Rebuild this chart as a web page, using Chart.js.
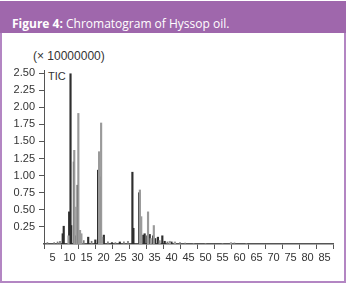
<!DOCTYPE html>
<html>
<head>
<meta charset="utf-8">
<script src="https://cdn.jsdelivr.net/npm/chart.js@4"></script>
<style>
  body { margin: 0; background: #fff; }
  #wrap { position: relative; width: 350px; height: 284px; overflow: hidden; }
  #frame { position: absolute; left: 0; top: 1px; width: 346px; height: 282px; box-sizing: border-box;
           border: 2px solid #b386c3; border-top: none; }
  #head { position: absolute; left: 0; top: 1px; width: 346px; height: 32px; background: #9f67ac;
          color: #fff; font: 12px "Open Sans", "Liberation Sans", sans-serif; line-height: 20px;
          padding: 13px 0 0 12px; box-sizing: border-box; white-space: nowrap; }
  #head b { font-weight: 700; }
  .lbl { position: absolute; font: 11px "Liberation Sans", Arial, sans-serif; color: #333; white-space: nowrap; }
  canvas { position: absolute; left: 0; top: 0; }
</style>
</head>
<body>
<div id="wrap">
  <div id="frame"></div>
  <div id="head"><b>Figure 4:</b> Chromatogram of Hyssop oil.</div>
  <div class="lbl" style="left:33px;top:49px;font-size:12px;">(× 10000000)</div>
  <div class="lbl" style="left:48px;top:70px;">TIC</div>
  <canvas id="chart" width="350" height="284"></canvas>
</div>
<script>
// retention time (min) and intensity (x 10^7)
const darkTimes = [8.0, 8.3, 9.9, 10.3, 10.5, 11.3, 11.7, 12.2, 12.4, 13.0, 15.5, 17.6, 18.4, 19.1, 20.1,
                   22.5, 24.8, 28.5, 28.8, 30.5, 31.7, 32.1, 32.9, 33.6, 34.6, 35.2, 36.0, 37.3, 38.0, 40.0];
const darkValues = [0.15, 0.26, 0.47, 2.49, 0.27, 1.20, 0.12, 0.40, 0.86, 0.18, 0.10, 0.06, 1.08, 0.98, 0.13,
                    0.02, 0.03, 1.05, 0.23, 0.75, 0.13, 0.15, 0.12, 0.14, 0.12, 0.08, 0.10, 0.12, 0.04, 0.03];
const grayTimes = [9.7, 11.4, 12.0, 12.6, 13.1, 13.5, 18.7, 19.3, 19.6, 30.7, 31.1, 33.1, 33.9, 34.8,
                   36.5, 39.5, 41.0, 57.5];
const grayValues = [0.12, 1.37, 0.54, 1.91, 0.20, 0.15, 1.35, 1.77, 0.10, 0.79, 0.40, 0.47, 0.08, 0.27,
                    0.05, 0.04, 0.03, 0.02];
const noiseTimes = [3.5, 5.5, 6.5, 7.2, 14.2, 16.5, 21.3, 23.5, 26.0, 27.2, 38.8, 42.5, 44.0, 46.5, 50.0, 55.0, 58.5, 62.0];
const noiseValues = [0.02, 0.02, 0.03, 0.04, 0.05, 0.04, 0.03, 0.02, 0.03, 0.04, 0.03, 0.02, 0.015, 0.01, 0.01, 0.01, 0.015, 0.01];
const xTicks = [5, 10, 15, 20, 25, 30, 35, 40, 45, 50, 55, 60, 65, 70, 75, 80, 85];
const yTicks = [0.25, 0.50, 0.75, 1.00, 1.25, 1.50, 1.75, 2.00, 2.25, 2.50];

const toPts = (xs, ys) => xs.map((x, i) => ({ x: x, y: ys[i] }));
const tickFont = { family: '"Liberation Sans", Arial, sans-serif', size: 11 };

new Chart(document.getElementById('chart'), {
  type: 'bar',
  data: {
    datasets: [
      { data: toPts(noiseTimes, noiseValues), backgroundColor: '#777', barThickness: 1 },
      { data: toPts(grayTimes, grayValues), backgroundColor: '#9a9a9a', barThickness: 1.5 },
      { data: toPts(darkTimes, darkValues), backgroundColor: '#2e2e2e', barThickness: 1.5 },
    ],
  },
  options: {
    responsive: false,
    animation: false,
    devicePixelRatio: 1,
    grouped: false,
    layout: { padding: { top: 70, right: 17, left: 0, bottom: 0 } },
    plugins: { legend: { display: false }, tooltip: { enabled: false } },
    scales: {
      x: {
        type: 'linear',
        min: 2.5,
        max: 87.5,
        offset: false,
        afterBuildTicks: (s) => { s.ticks = xTicks.map((v) => ({ value: v })); },
        afterFit: (s) => { s.height = 40; },
        grid: { drawOnChartArea: false, drawTicks: true, tickLength: 5, color: '#555' },
        border: { display: true, color: '#555', width: 1.5 },
        ticks: { color: '#333', font: tickFont, padding: 2, maxRotation: 0, autoSkip: false },
      },
      y: {
        min: 0,
        max: 2.545,
        afterBuildTicks: (s) => { s.ticks = yTicks.map((v) => ({ value: v })); },
        afterFit: (s) => { s.width = 44; },
        grid: { drawOnChartArea: false, drawTicks: true, tickLength: 5, color: '#555' },
        border: { display: true, color: '#555', width: 1 },
        ticks: { color: '#333', font: tickFont, padding: 4, callback: (v) => v.toFixed(2) },
      },
    },
  },
});
</script>
</body>
</html>
